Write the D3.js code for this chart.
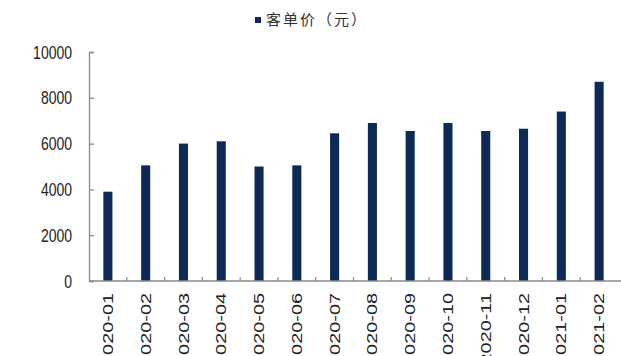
<!DOCTYPE html>
<html>
<head>
<meta charset="utf-8">
<script src="https://cdn.jsdelivr.net/npm/d3@7"></script>
<style>
  body { margin: 0; background: #fff; }
  svg { display: block; }
</style>
</head>
<body>
<div id="chart"></div>
<script>
// data
var months = ["2020-01", "2020-02", "2020-03", "2020-04", "2020-05", "2020-06", "2020-07",
              "2020-08", "2020-09", "2020-10", "2020-11", "2020-12", "2021-01", "2021-02"];
var price = [3900, 5050, 6000, 6100, 5000, 5050, 6450, 6900, 6550, 6900, 6550, 6650, 7400, 8700];
var yTicks = [0, 2000, 4000, 6000, 8000, 10000];
var seriesName = "客单价（元）";

var width = 621, height = 356;
var barColor = "#0c2a55";
var axisColor = "#8a8a8a";

var svg = d3.select("#chart")
    .append("svg")
    .attr("width", width)
    .attr("height", height);

var x = d3.scaleBand()
    .domain(months)
    .range([89, 618])
    .paddingInner(0.76)
    .paddingOuter(0.38);

var y = d3.scaleLinear()
    .domain([0, 10000])
    .range([281, 52]);

// bars
svg.append("g")
    .selectAll("rect")
    .data(price)
    .enter()
    .append("rect")
    .attr("x", function (d, i) { return x(months[i]); })
    .attr("y", function (d) { return y(d); })
    .attr("width", x.bandwidth())
    .attr("height", function (d) { return y(0) - y(d); })
    .attr("fill", barColor);

// y axis: ticks point inward
var yAxis = svg.append("g")
    .attr("transform", "translate(89,0)")
    .call(d3.axisRight(y).tickValues(yTicks).tickSize(5).tickFormat(""));
yAxis.select(".domain").attr("stroke", axisColor).attr("stroke-width", 1.3);
yAxis.selectAll(".tick line").attr("stroke", axisColor).attr("stroke-width", 1.3);

svg.append("g")
    .selectAll("text")
    .data(yTicks)
    .enter()
    .append("text")
    .attr("transform", function (d) {
        return "translate(72," + y(d) + ") scale(1,1.3)";
    })
    .attr("dy", "0.36em")
    .attr("text-anchor", "end")
    .attr("font-family", "Arial, 'Liberation Sans', sans-serif")
    .attr("font-size", 14)
    .attr("fill", "#222")
    .text(function (d) { return d; });

// x axis line
svg.append("line")
    .attr("x1", 89)
    .attr("x2", width)
    .attr("y1", y(0))
    .attr("y2", y(0))
    .attr("stroke", axisColor)
    .attr("stroke-width", 1.3);

// category boundary ticks (pointing up)
var gap = (x.step() - x.bandwidth()) / 2;
svg.append("g")
    .selectAll("line")
    .data(months.slice(1))
    .enter()
    .append("line")
    .attr("x1", function (d) { return x(d) - gap; })
    .attr("x2", function (d) { return x(d) - gap; })
    .attr("y1", y(0))
    .attr("y2", y(0) - 4)
    .attr("stroke", axisColor)
    .attr("stroke-width", 1.2);

// rotated month labels (run off the bottom edge as in the source)
svg.append("g")
    .selectAll("text")
    .data(months)
    .enter()
    .append("text")
    .attr("transform", function (d) {
        return "translate(" + (x(d) + x.bandwidth() / 2) + ",293) rotate(-90) scale(1.42,1)";
    })
    .attr("dy", "0.36em")
    .attr("text-anchor", "end")
    .attr("font-family", "Arial, 'Liberation Sans', sans-serif")
    .attr("font-size", 14)
    .attr("fill", "#222")
    .text(function (d) { return d; });

// legend
var legend = svg.append("g");
legend.append("rect")
    .attr("x", 255)
    .attr("y", 17)
    .attr("width", 6)
    .attr("height", 6)
    .attr("fill", barColor);
legend.append("text")
    .attr("x", 266)
    .attr("y", 20)
    .attr("dy", "0.36em")
    .attr("font-family", "'Noto Sans CJK SC', sans-serif")
    .attr("font-size", 15)
    .attr("letter-spacing", 2)
    .attr("fill", "#333")
    .text(seriesName);
</script>
</body>
</html>
